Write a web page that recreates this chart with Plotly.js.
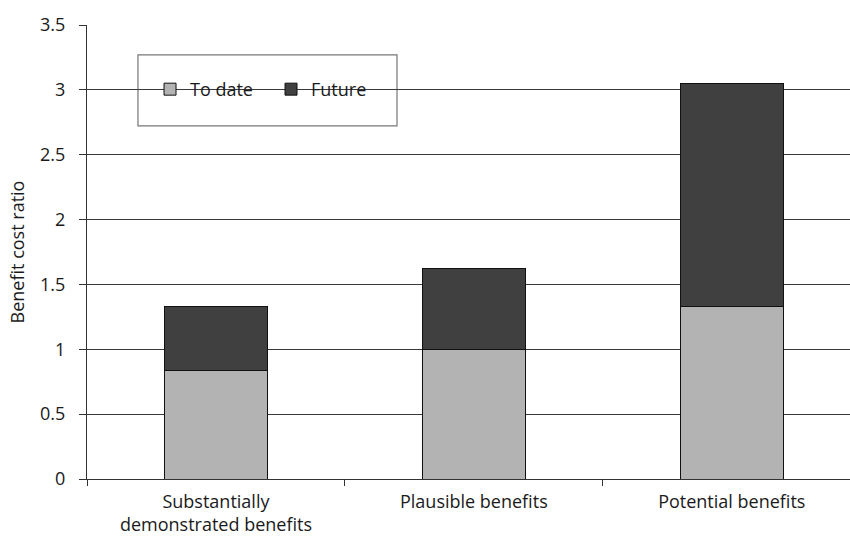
<!DOCTYPE html>
<html>
<head>
<meta charset="utf-8">
<script src="https://cdn.plot.ly/plotly-3.0.1.min.js"></script>
<style>
  html, body { margin: 0; padding: 0; background: #fff; }
  #chart { width: 850px; height: 539px; }
</style>
</head>
<body>
<div id="chart"></div>
<script>
// Benefit cost ratio by evidence category
const categories = [
  "Substantially<br>demonstrated benefits",
  "Plausible benefits",
  "Potential benefits"
];
const toDate = [0.84, 1.0, 1.33];
const future = [0.49, 0.62, 1.72];
const yTicks = [0, 0.5, 1, 1.5, 2, 2.5, 3, 3.5];
const yTickText = ["0", "0.5", "1", "1.5", "2", "2.5", "3", "3.5"];

const FONT = "Open Sans, Noto Sans, sans-serif";
const INK = "#1a1a1a";

const traces = [
  {
    type: "bar",
    name: "To date",
    x: categories,
    y: toDate,
    width: 0.4,
    marker: { color: "#b3b3b3", line: { color: "#111", width: 1 } }
  },
  {
    type: "bar",
    name: "Future",
    x: categories,
    y: future,
    width: 0.4,
    marker: { color: "#404040", line: { color: "#111", width: 1 } }
  }
];

const layout = {
  width: 850,
  height: 539,
  margin: { l: 87, r: 0, t: 25, b: 60 },
  paper_bgcolor: "#fff",
  plot_bgcolor: "#fff",
  barmode: "stack",
  font: { family: FONT, size: 18, color: INK },
  showlegend: true,
  legend: {
    orientation: "h",
    x: 0.0826,
    xanchor: "left",
    y: 0.858,
    yanchor: "middle",
    bgcolor: "rgba(0,0,0,0)",
    borderwidth: 0,
    entrywidth: 76,
    traceorder: "normal",
    font: { family: FONT, size: 18, color: INK }
  },
  xaxis: {
    type: "category",
    range: [-0.5, 2.4585],
    showgrid: false,
    showline: true,
    linecolor: "#333",
    linewidth: 1,
    ticks: "outside",
    tickson: "boundaries",
    ticklen: 6,
    tickcolor: "#333",
    ticklabelstandoff: 6,
    tickfont: { family: FONT, size: 18, color: INK },
    zeroline: false,
    fixedrange: true
  },
  yaxis: {
    range: [0, 3.5],
    tickvals: yTicks,
    ticktext: yTickText,
    showgrid: true,
    gridcolor: "#3a3a3a",
    gridwidth: 1,
    showline: true,
    linecolor: "#333",
    linewidth: 1,
    ticks: "outside",
    ticklen: 7,
    tickcolor: "#333",
    ticklabelstandoff: 10,
    tickfont: { family: FONT, size: 18, color: INK },
    zeroline: false,
    title: {
      text: "Benefit cost ratio",
      font: { family: FONT, size: 18, color: INK },
      standoff: 10
    },
    automargin: false,
    fixedrange: true
  },
  shapes: [
    {
      type: "rect",
      xref: "paper",
      yref: "paper",
      x0: 0.0668,
      x1: 0.4063,
      y0: 0.778,
      y1: 0.934,
      layer: "below",
      fillcolor: "#fff",
      line: { color: "#777", width: 1.2 }
    }
  ]
};

Plotly.newPlot("chart", traces, layout, { displayModeBar: false, staticPlot: true });
</script>
</body>
</html>
